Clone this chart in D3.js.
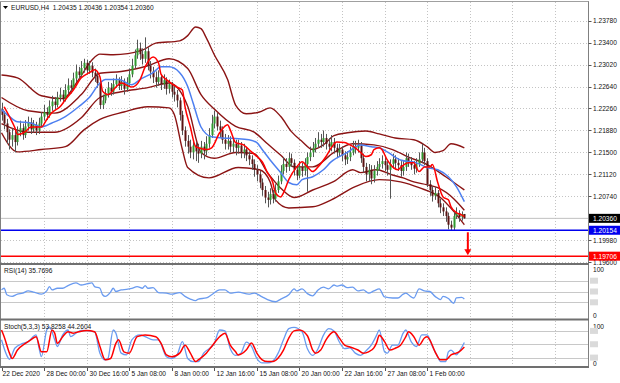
<!DOCTYPE html>
<html><head><meta charset="utf-8">
<script src="https://cdnjs.cloudflare.com/ajax/libs/d3/7.8.5/d3.min.js"></script>
<style>
body{margin:0;background:#fff;}
svg{display:block;font-family:"Liberation Sans",Arial,sans-serif;}
</style></head><body>
<svg id="c" width="620" height="383"></svg>
<script>
// ---------- DATA ----------
const symbolTitle = "EURUSD,H4  1.20435 1.20436 1.20354 1.20360";
const firstOpen = 1.2225;
const closes = [1.2215,1.2200,1.2185,1.2172,1.2180,1.2168,1.2185,1.2192,1.2180,1.2195,
1.2202,1.2190,1.2198,1.2188,1.2200,1.2212,1.2220,1.2215,1.2230,1.2238,
1.2232,1.2245,1.2250,1.2242,1.2258,1.2266,1.2262,1.2278,1.2290,1.2284,
1.2296,1.2305,1.2292,1.2300,1.2288,1.2282,1.2270,1.2232,1.2240,1.2252,
1.2262,1.2255,1.2268,1.2275,1.2265,1.2272,1.2260,1.2270,1.2285,1.2300,
1.2318,1.2330,1.2320,1.2312,1.2325,1.2300,1.2290,1.2280,1.2272,1.2280,
1.2268,1.2275,1.2260,1.2268,1.2255,1.2250,1.2240,1.2215,1.2188,1.2170,
1.2160,1.2150,1.2162,1.2152,1.2148,1.2160,1.2152,1.2165,1.2180,1.2200,
1.2212,1.2195,1.2188,1.2172,1.2165,1.2170,1.2160,1.2165,1.2158,1.2162,
1.2150,1.2155,1.2145,1.2138,1.2130,1.2120,1.2112,1.2098,1.2085,1.2072,
1.2068,1.2078,1.2070,1.2085,1.2100,1.2118,1.2130,1.2125,1.2140,1.2132,
1.2120,1.2110,1.2125,1.2118,1.2130,1.2142,1.2150,1.2158,1.2165,1.2172,
1.2168,1.2175,1.2165,1.2160,1.2168,1.2158,1.2150,1.2155,1.2145,1.2138,
1.2142,1.2150,1.2160,1.2158,1.2162,1.2140,1.2125,1.2112,1.2120,1.2105,
1.2118,1.2125,1.2130,1.2135,1.2128,1.2120,1.2130,1.2138,1.2132,1.2128,
1.2118,1.2125,1.2140,1.2135,1.2128,1.2122,1.2130,1.2138,1.2150,1.2135,
1.2095,1.2085,1.2075,1.2080,1.2062,1.2055,1.2048,1.2040,1.2025,1.2020,
1.2040,1.2045,1.2038,1.20435,1.2036];
const highs = [1.2236,1.2222,1.2208,1.2190,1.2192,1.2188,1.2195,1.2205,1.2200,1.2206,
1.2212,1.2210,1.2206,1.2203,1.2210,1.2220,1.2232,1.2228,1.2240,1.2248,
1.2246,1.2255,1.2262,1.2258,1.2268,1.2278,1.2275,1.2288,1.2302,1.2298,
1.2308,1.2312,1.2310,1.2308,1.2306,1.2295,1.2290,1.2275,1.2250,1.2260,
1.2272,1.2270,1.2278,1.2285,1.2280,1.2282,1.2278,1.2280,1.2295,1.2312,
1.2328,1.2345,1.2340,1.2330,1.2349,1.2332,1.2308,1.2298,1.2290,1.2292,
1.2285,1.2285,1.2280,1.2276,1.2272,1.2265,1.2258,1.2245,1.2222,1.2195,
1.2180,1.2172,1.2170,1.2168,1.2165,1.2170,1.2168,1.2178,1.2192,1.2215,
1.2222,1.2218,1.2205,1.2195,1.2182,1.2180,1.2178,1.2175,1.2172,1.2172,
1.2168,1.2165,1.2160,1.2152,1.2145,1.2138,1.2128,1.2118,1.2105,1.2092,
1.2082,1.2088,1.2085,1.2095,1.2110,1.2128,1.2142,1.2140,1.2150,1.2148,
1.2138,1.2128,1.2135,1.2132,1.2140,1.2150,1.2160,1.2168,1.2175,1.2185,
1.2182,1.2188,1.2182,1.2175,1.2180,1.2175,1.2165,1.2165,1.2160,1.2152,
1.2152,1.2160,1.2170,1.2170,1.2172,1.2168,1.2148,1.2132,1.2130,1.2128,
1.2128,1.2135,1.2140,1.2145,1.2142,1.2135,1.2138,1.2148,1.2145,1.2140,
1.2135,1.2135,1.2150,1.2148,1.2142,1.2135,1.2140,1.2150,1.2165,1.2158,
1.2140,1.2102,1.2092,1.2090,1.2085,1.2070,1.2062,1.2055,1.2046,1.2032,
1.2048,1.2055,1.2050,1.2048,1.20436];
const lows = [1.2205,1.2190,1.2165,1.2155,1.2160,1.2150,1.2162,1.2178,1.2172,1.2175,
1.2188,1.2182,1.2184,1.2180,1.2182,1.2195,1.2205,1.2206,1.2210,1.2222,
1.2224,1.2228,1.2238,1.2235,1.2238,1.2250,1.2252,1.2258,1.2272,1.2275,
1.2280,1.2288,1.2285,1.2286,1.2280,1.2272,1.2262,1.2225,1.2225,1.2235,
1.2245,1.2248,1.2250,1.2262,1.2258,1.2258,1.2250,1.2255,1.2265,1.2280,
1.2295,1.2312,1.2310,1.2302,1.2305,1.2292,1.2278,1.2270,1.2262,1.2265,
1.2258,1.2260,1.2250,1.2252,1.2245,1.2238,1.2228,1.2205,1.2180,1.2160,
1.2148,1.2140,1.2138,1.2135,1.2132,1.2140,1.2138,1.2145,1.2158,1.2175,
1.2192,1.2188,1.2175,1.2165,1.2155,1.2155,1.2150,1.2150,1.2145,1.2148,
1.2140,1.2140,1.2135,1.2128,1.2120,1.2108,1.2100,1.2088,1.2075,1.2062,
1.2055,1.2060,1.2062,1.2065,1.2080,1.2095,1.2112,1.2115,1.2118,1.2125,
1.2110,1.2102,1.2105,1.2108,1.2110,1.2082,1.2135,1.2142,1.2150,1.2158,
1.2158,1.2160,1.2155,1.2150,1.2152,1.2148,1.2140,1.2142,1.2135,1.2128,
1.2130,1.2135,1.2145,1.2148,1.2150,1.2132,1.2115,1.2100,1.2100,1.2095,
1.2098,1.2110,1.2118,1.2122,1.2118,1.2110,1.2070,1.2122,1.2122,1.2118,
1.2108,1.2110,1.2118,1.2125,1.2120,1.2112,1.2115,1.2125,1.2132,1.2128,
1.2090,1.2075,1.2065,1.2068,1.2055,1.2045,1.2040,1.2030,1.2017,1.2015,
1.2016,1.2035,1.2030,1.2032,1.20354];

// fast MA (red): bar index / price
const maFastBar = [1,3,5,6,9,11,15,17,19,22,24,27,30,33,35,37,38,40,43,45,49,52,54,57,59,60,62,66,68,69,71,73,74,77,79,82,85,86,88,91,93,96,98,100,102,103,105,106,108,111,113,115,117,119,122,124,126,129,131,133,135,137,139,140,142,143,145,147,149,150,153,155,157,159,161,162,164,166,168,169,171,173,174];
const maFastVal = [1.2229,1.2212,1.2193,1.2181,1.2186,1.2194,1.2194,1.2207,1.2219,1.2229,1.2241,1.2258,1.2279,1.2288,1.2293,1.2281,1.2256,1.2250,1.2263,1.2270,1.2263,1.2275,1.2298,1.2315,1.2305,1.2285,1.2276,1.2263,1.2258,1.2229,1.2194,1.2160,1.2158,1.2155,1.2158,1.2184,1.2198,1.2189,1.2167,1.2163,1.2155,1.2143,1.2134,1.2115,1.2098,1.2080,1.2073,1.2080,1.2103,1.2125,1.2134,1.2125,1.2117,1.2125,1.2143,1.2158,1.2168,1.2167,1.2163,1.2158,1.2150,1.2143,1.2146,1.2155,1.2158,1.2155,1.2137,1.2125,1.2120,1.2124,1.2132,1.2132,1.2117,1.2125,1.2125,1.2129,1.2098,1.2073,1.2068,1.2056,1.2046,1.2042,1.2039];
// slow MA (blue)
const maSlowBar = [0,3,6,11,15,19,24,29,33,37,39,44,49,52,57,60,63,67,70,72,75,79,83,88,93,96,98,101,105,108,111,113,117,121,124,130,135,139,142,145,150,156,160,164,168,171,174];
const maSlowVal = [1.2224,1.2212,1.2203,1.2201,1.2194,1.2201,1.2212,1.2229,1.2245,1.2270,1.2276,1.2276,1.2267,1.2276,1.2288,1.2298,1.2298,1.2288,1.2264,1.2236,1.2194,1.2177,1.2175,1.2174,1.2172,1.2167,1.2155,1.2137,1.2115,1.2098,1.2094,1.2103,1.2108,1.2120,1.2134,1.2150,1.2163,1.2160,1.2158,1.2151,1.2137,1.2132,1.2124,1.2120,1.2108,1.2091,1.2065];
// bands (maroon)
const bandUpBar = [0,6,15,23,29,34,37,42,53,58,67,70,73,75,77,80,85,88,92,97,101,105,109,113,117,121,125,130,137,142,148,155,160,163,166,169,174];
const bandUpVal = [1.2284,1.2279,1.2248,1.2243,1.2276,1.2310,1.2320,1.2319,1.2327,1.2339,1.2343,1.2352,1.2367,1.2364,1.2348,1.2319,1.2276,1.2232,1.2217,1.2220,1.2227,1.2212,1.2186,1.2169,1.2155,1.2163,1.2179,1.2184,1.2187,1.2182,1.2175,1.2172,1.2160,1.2150,1.2153,1.2165,1.2158];
const bandLoBar = [0,6,15,24,31,37,46,55,63,65,68,70,78,89,97,101,103,108,117,124,133,142,150,157,165,170,174];
const bandLoVal = [1.2184,1.2151,1.2155,1.2160,1.2189,1.2207,1.2220,1.2229,1.2227,1.2215,1.2155,1.2124,1.2106,1.2124,1.2120,1.2099,1.2068,1.2054,1.2056,1.2068,1.2091,1.2103,1.2099,1.2089,1.2072,1.2048,1.2025];
const innerUpBar = [0,10,20,30,37,45,55,63,70,75,80,88,95,100,105,110,117,125,132,140,147,153,160,167,174];
const innerUpVal = [1.2245,1.2222,1.2218,1.2250,1.2287,1.2290,1.2300,1.2312,1.2295,1.2250,1.2225,1.2195,1.2185,1.2165,1.2145,1.2125,1.2125,1.2150,1.2165,1.2163,1.2155,1.2142,1.2129,1.2108,1.2085];
const innerLoBar = [0,10,20,30,37,45,55,63,70,75,80,88,95,100,105,110,117,125,132,135,141,147,151,155,160,164,170,174];
const innerLoVal = [1.2200,1.2185,1.2185,1.2210,1.2245,1.2255,1.2262,1.2270,1.2230,1.2150,1.2140,1.2150,1.2148,1.2115,1.2088,1.2072,1.2085,1.2100,1.2120,1.2115,1.2120,1.2111,1.2106,1.2099,1.2094,1.2089,1.2070,1.2050];

const rsiBar = [0,1,2,4,6,8,10,12,15,17,18,19,21,23,25,28,30,32,34,35,37,38,39,41,42,43,45,47,49,51,53,54,55,57,59,62,64,67,69,71,73,74,77,79,82,84,86,89,93,95,98,100,103,105,108,110,111,113,115,117,119,121,123,125,126,128,130,132,134,136,138,140,142,144,147,149,151,152,154,155,157,159,161,163,165,166,168,170,171,173,174];
const rsiVal = [53,56,44,41,45,47,51,49,45,51,59,53,56,56,61,66,62,64,66,59,56,44,41,49,56,50,53,54,56,59,56,61,56,57,48,47,45,48,41,36,33,36,38,44,53,53,47,49,45,47,40,35,31,36,44,55,51,55,46,42,53,58,55,62,60,62,57,58,51,53,47,51,55,40,38,38,45,47,40,38,55,51,50,41,35,41,37,28,38,39,36];
const stochKBar = [0,2,3,5,8,10,13,14,15,17,18,20,21,23,25,26,28,30,35,37,39,40,42,43,45,47,49,52,54,57,59,62,64,66,68,70,72,74,76,80,82,84,86,88,90,92,94,96,98,100,102,104,106,108,110,113,115,117,119,121,123,125,127,129,131,133,135,137,139,141,142,144,145,147,149,151,152,154,156,158,160,162,164,165,167,168,169,171,172,174];
const stochKVal = [60,25,16,41,52,56,71,45,22,82,89,60,45,71,82,67,75,81,78,30,15,18,82,75,30,26,60,71,67,60,60,22,18,26,56,18,11,11,30,52,82,80,40,25,30,55,45,18,8,8,12,30,60,85,88,78,40,25,40,70,85,80,55,40,42,30,25,35,48,70,82,33,30,48,48,75,82,56,45,71,71,45,22,11,11,33,37,26,33,54];
const stochDBar = [0,1,3,4,6,9,11,13,15,17,19,20,21,23,25,27,29,32,35,37,39,41,43,44,46,48,51,54,58,60,62,64,67,69,71,73,74,77,79,82,84,86,88,89,92,94,96,98,100,102,104,106,108,110,112,115,117,118,120,122,124,125,127,129,131,134,136,138,140,141,142,144,146,148,150,152,153,155,157,159,160,161,163,165,167,169,171,172,174];
const stochDVal = [82,67,30,18,37,52,60,67,33,33,82,75,52,67,78,75,78,81,78,45,15,18,52,60,33,30,67,71,67,52,26,22,30,48,30,11,15,30,45,67,75,48,33,26,37,53,30,15,11,11,19,37,64,80,82,69,37,30,37,60,75,78,64,48,44,37,30,33,42,53,70,56,37,41,48,67,78,67,48,64,67,60,33,15,15,26,30,33,44];

const priceTicks = [1.2378,1.2340,1.2302,1.2264,1.2226,1.2188,1.2150,1.2112,1.2074,1.1998,1.1960];
const timeBars = [0,16,32,48,64,80,96,112,128,144,160];
const timeLabels = ["22 Dec 2020","28 Dec 00:00","30 Dec 16:00","5 Jan 08:00","8 Jan 00:00","12 Jan 16:00","15 Jan 08:00","20 Jan 00:00","22 Jan 16:00","27 Jan 08:00","1 Feb 00:00"];
const gridBars = [16,32,48,64,80,96,112,128,144,160,176,192,208];
const bidPrice = 1.20360, supportPrice = 1.20154, targetPrice = 1.19706;
const rsiLabel = "RSI(14) 35.7696";
const stochLabel = "Stoch(5,3,3) 53.8258 44.2604";
const rsiLevels = [70,50,30], stochLevels = [80,50,20];

// ---------- SCALES ----------
const svg = d3.select("#c");
const x = d3.scaleLinear().domain([0,174]).range([1.5, 1.5+2.66*174]);
const y = d3.scaleLinear().domain([1.2378,1.1960]).range([20.6,262.3]);
const yR = d3.scaleLinear().domain([0,100]).range([318.5,264.5]);
const yS = d3.scaleLinear().domain([0,100]).range([366.5,322]);
const R = 588.5; // right edge of plots

svg.append("rect").attr("width",620).attr("height",383).attr("fill","#fff");
const defs = svg.append("defs");
defs.append("clipPath").attr("id","cm").append("rect").attr("x",1).attr("y",2).attr("width",587).attr("height",261);
defs.append("clipPath").attr("id","cr").append("rect").attr("x",1).attr("y",265).attr("width",587).attr("height",53);
defs.append("clipPath").attr("id","cs").append("rect").attr("x",1).attr("y",321).attr("width",587).attr("height",46);

// grids
const grid = svg.append("g").attr("stroke","#c4c4c4").attr("stroke-dasharray","1,2").attr("stroke-width",1);
gridBars.forEach(b=>{
  const gx = Math.round(x(b))+0.5;
  [[2,263],[265,318],[321,366]].forEach(([a,c])=>grid.append("line").attr("x1",gx).attr("x2",gx).attr("y1",a).attr("y2",c));
});
priceTicks.forEach(p=>{const gy=Math.round(y(p))+0.5;grid.append("line").attr("x1",1).attr("x2",R).attr("y1",gy).attr("y2",gy);});
rsiLevels.forEach(v=>{const gy=Math.round(yR(v))+0.5;svg.append("line").attr("x1",1).attr("x2",R).attr("y1",gy).attr("y2",gy).attr("stroke","#c8c8c8");});
stochLevels.forEach(v=>{const gy=Math.round(yS(v))+0.5;svg.append("line").attr("x1",1).attr("x2",R).attr("y1",gy).attr("y2",gy).attr("stroke","#c8c8c8");});

// bid line
svg.append("line").attr("x1",1).attr("x2",R).attr("y1",y(bidPrice)).attr("y2",y(bidPrice)).attr("stroke","#c0c0c0");

const main = svg.append("g").attr("clip-path","url(#cm)");
const ln = (xs,vs,sc)=>d3.line().curve(d3.curveMonotoneX).x((d,i)=>x(xs[i])).y((d,i)=>sc(vs[i]))(vs);

// bands
const maroon = "#8b1414";
[[bandUpBar,bandUpVal],[bandLoBar,bandLoVal],[innerUpBar,innerUpVal],[innerLoBar,innerLoVal]].forEach(([b,v])=>{
  main.append("path").attr("d",ln(b,v,y)).attr("fill","none").attr("stroke",maroon).attr("stroke-width",1.4);
});

// candles
const cg = main.append("g");
closes.forEach((c,i)=>{
  const o = i===0 ? firstOpen : closes[i-1];
  const cx = Math.round(x(i))+0.5;
  cg.append("line").attr("x1",cx).attr("x2",cx).attr("y1",y(highs[i])).attr("y2",y(lows[i])).attr("stroke","#555").attr("stroke-width",1);
  const top = y(Math.max(o,c)), bot = y(Math.min(o,c));
  cg.append("rect").attr("x",cx-1).attr("y",top).attr("width",2).attr("height",Math.max(0.8,bot-top))
    .attr("fill", c>=o ? "#2f9a2f" : "#5a1212");
});

// MAs
main.append("path").attr("d",ln(maSlowBar,maSlowVal,y)).attr("fill","none").attr("stroke","#4d7ff0").attr("stroke-width",1.5);
main.append("path").attr("d",ln(maFastBar,maFastVal,y)).attr("fill","none").attr("stroke","#ff0000").attr("stroke-width",1.5);

// horizontal levels
svg.append("line").attr("x1",1).attr("x2",R).attr("y1",y(supportPrice)).attr("y2",y(supportPrice)).attr("stroke","#0000ee").attr("stroke-width",1.5);
svg.append("line").attr("x1",1).attr("x2",R).attr("y1",y(targetPrice)).attr("y2",y(targetPrice)).attr("stroke","#ff0000").attr("stroke-width",1.5);

// arrow
const ax = x(174)+3.5;
svg.append("line").attr("x1",ax).attr("x2",ax).attr("y1",y(supportPrice)+2).attr("y2",y(targetPrice)-6).attr("stroke","#ff0000").attr("stroke-width",2);
svg.append("path").attr("d",`M${ax-3.5},${y(targetPrice)-7}L${ax+3.5},${y(targetPrice)-7}L${ax},${y(targetPrice)-1}Z`).attr("fill","#ff0000");

// RSI
svg.append("g").attr("clip-path","url(#cr)").append("path").attr("d",ln(rsiBar,rsiVal,yR)).attr("fill","none").attr("stroke","#6a9bf0").attr("stroke-width",1.3);
// Stoch
const sg = svg.append("g").attr("clip-path","url(#cs)");
sg.append("path").attr("d",ln(stochKBar,stochKVal,yS)).attr("fill","none").attr("stroke","#6a9bf0").attr("stroke-width",1.3);
sg.append("path").attr("d",ln(stochDBar,stochDVal,yS)).attr("fill","none").attr("stroke","#ff0000").attr("stroke-width",1.5);

// frames
const fr = svg.append("g").attr("stroke","#808080").attr("fill","none");
fr.append("line").attr("x1",0.5).attr("x2",0.5).attr("y1",1).attr("y2",368);
fr.append("line").attr("x1",R).attr("x2",R).attr("y1",1).attr("y2",368);
fr.append("line").attr("x1",0).attr("x2",R).attr("y1",1.5).attr("y2",1.5).attr("stroke","#a0a0a0");
[264,319.5,367].forEach(yy=>fr.append("line").attr("x1",0).attr("x2",R+0.5).attr("y1",yy).attr("y2",yy).attr("stroke","#707070").attr("stroke-width",2));

// price axis labels
const fs = 6.6;
priceTicks.forEach(p=>{
  const py = y(p);
  svg.append("line").attr("x1",R).attr("x2",R+3).attr("y1",Math.round(py)+0.5).attr("y2",Math.round(py)+0.5).attr("stroke","#555");
  svg.append("text").attr("x",593).attr("y",py+2.4).attr("font-size",fs).attr("fill","#111").text(p.toFixed(5));
});
[[bidPrice,"#000"],[supportPrice,"#0000ee"],[targetPrice,"#ff0000"]].forEach(([p,col])=>{
  const py=y(p);
  svg.append("rect").attr("x",R+0.5).attr("y",py-4.5).attr("width",31).attr("height",9).attr("fill",col);
  svg.append("text").attr("x",593).attr("y",py+2.4).attr("font-size",fs).attr("fill","#fff").text(p.toFixed(5));
});

// sub-panel axis labels (level markers are blank grey boxes)
function subAxis(sc, levels){
  svg.append("text").attr("x",593).attr("y",sc(100)+7).attr("font-size",fs).attr("fill","#111").text("100");
  svg.append("text").attr("x",593).attr("y",sc(0)-0.8).attr("font-size",fs).attr("fill","#111").text("0");
  levels.forEach(v=>{
    svg.append("rect").attr("x",590).attr("y",sc(v)-3).attr("width",8).attr("height",6).attr("fill","#dadada");
  });
}
subAxis(yR, rsiLevels);
subAxis(yS, stochLevels);

// time axis
timeBars.forEach((b,i)=>{
  const tx = Math.round(x(b))+0.5;
  svg.append("line").attr("x1",tx).attr("x2",tx).attr("y1",368).attr("y2",371).attr("stroke","#555");
  svg.append("text").attr("x",i===0?2.5:tx+2).attr("y",375.5).attr("font-size",fs).attr("fill","#111").text(timeLabels[i]);
});

// titles
svg.append("path").attr("d","M3,6L8,6L5.5,9Z").attr("fill","#000");
svg.append("text").attr("x",11).attr("y",9.5).attr("font-size",fs).attr("fill","#111").attr("xml:space","preserve").style("white-space","pre").text(symbolTitle);
svg.append("text").attr("x",4).attr("y",273).attr("font-size",fs).attr("fill","#111").text(rsiLabel);
svg.append("text").attr("x",4).attr("y",329).attr("font-size",fs).attr("fill","#111").text(stochLabel);
</script>
</body></html>
